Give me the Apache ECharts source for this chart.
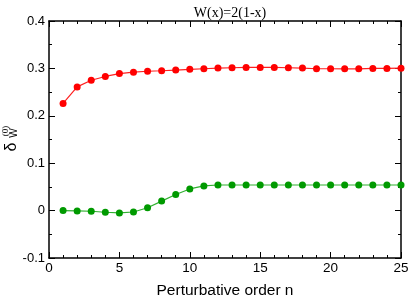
<!DOCTYPE html>
<html>
<head>
<meta charset="utf-8">
<script src="https://cdn.jsdelivr.net/npm/echarts@6/dist/echarts.min.js"></script>
<style>html,body{margin:0;padding:0;background:#fff;}#c{width:409px;height:298px;}</style>
</head>
<body>
<div id="c"></div>
<script>
var orders = [1,2,3,4,5,6,7,8,9,10,11,12,13,14,15,16,17,18,19,20,21,22,23,24,25];
var redValues = [0.226,0.261,0.275,0.283,0.289,0.292,0.294,0.295,0.2965,0.298,0.2993,0.3007,0.3014,0.302,0.302,0.302,0.3014,0.3007,0.2993,0.2993,0.299,0.299,0.300,0.300,0.3005];
var greenValues = [0.000,-0.0007,-0.0014,-0.0035,-0.005,-0.003,0.006,0.020,0.034,0.0457,0.052,0.054,0.054,0.054,0.054,0.054,0.054,0.054,0.054,0.054,0.054,0.054,0.054,0.054,0.054];
var xTicks = [0,5,10,15,20,25];
var yTicks = ['-0.1','0','0.1','0.2','0.3','0.4'];

function pairs(vals){ return orders.map(function(n,i){ return [n, vals[i]]; }); }
var sans = 'Liberation Sans, Arial, sans-serif';
var serif = 'Liberation Serif, Times New Roman, serif';
function axisStyle(split){
  return {
    axisLine:{show:true,onZero:false,lineStyle:{color:'#000',width:1.5}},
    axisTick:{show:true,inside:true,length:6,lineStyle:{color:'#000',width:1}},
    minorTick:{show:true,splitNumber:split,length:3,lineStyle:{color:'#000',width:1}},
    splitLine:{show:false}
  };
}
var chart = echarts.init(document.getElementById('c'));
chart.setOption({
  animation:false,
  backgroundColor:'#fff',
  title:{text:'W(x)=2(1-x)',left:225,top:1,textAlign:'center',textStyle:{fontFamily:serif,fontSize:14,fontWeight:'normal',color:'#000'}},
  grid:{left:49,right:8,top:21,bottom:40,outerBoundsMode:'none',containLabel:false},
  xAxis:[
    Object.assign({type:'value',min:0,max:25,interval:5,position:'bottom',
      name:'Perturbative order n',nameLocation:'middle',nameGap:25,
      nameTextStyle:{fontFamily:sans,fontSize:15.5,color:'#000'},
      axisLabel:{fontFamily:sans,fontSize:13.5,color:'#000',margin:3,
        formatter:function(v){return xTicks.indexOf(v)>=0?String(v):'';}}
    }, axisStyle(5)),
    Object.assign({type:'value',min:0,max:25,interval:5,position:'top',axisLabel:{show:false}}, axisStyle(5))
  ],
  yAxis:[
    Object.assign({type:'value',min:-0.1,max:0.4,interval:0.1,position:'left',
      axisLabel:{fontFamily:sans,fontSize:13,color:'#000',margin:4,
        formatter:function(v){var s=String(Math.round(v*10)/10); return yTicks.indexOf(s)>=0?s:'';}}
    }, axisStyle(2)),
    Object.assign({type:'value',min:-0.1,max:0.4,interval:0.1,position:'right',axisLabel:{show:false}}, axisStyle(2))
  ],
  graphic:[
    {type:'text',x:12,y:147,rotation:Math.PI/2,style:{text:'δ',fontFamily:sans,fontSize:16,fill:'#000',align:'center',verticalAlign:'middle'}},
    {type:'text',x:14,y:133,rotation:Math.PI/2,style:{text:'W',fontFamily:sans,fontSize:10,fill:'#000',align:'center',verticalAlign:'middle'}},
    {type:'text',x:5.5,y:131,rotation:Math.PI/2,style:{text:'(0)',fontFamily:serif,fontSize:9,fill:'#000',align:'center',verticalAlign:'middle'}}
  ],
  series:[
    {type:'line',data:pairs(redValues),symbol:'circle',symbolSize:7,clip:false,
      lineStyle:{color:'#ff2020',width:1.2},itemStyle:{color:'#ff0000'}},
    {type:'line',data:pairs(greenValues),symbol:'circle',symbolSize:7,clip:false,
      lineStyle:{color:'#30b030',width:1.2},itemStyle:{color:'#009a00'}}
  ]
});
</script>
</body>
</html>
